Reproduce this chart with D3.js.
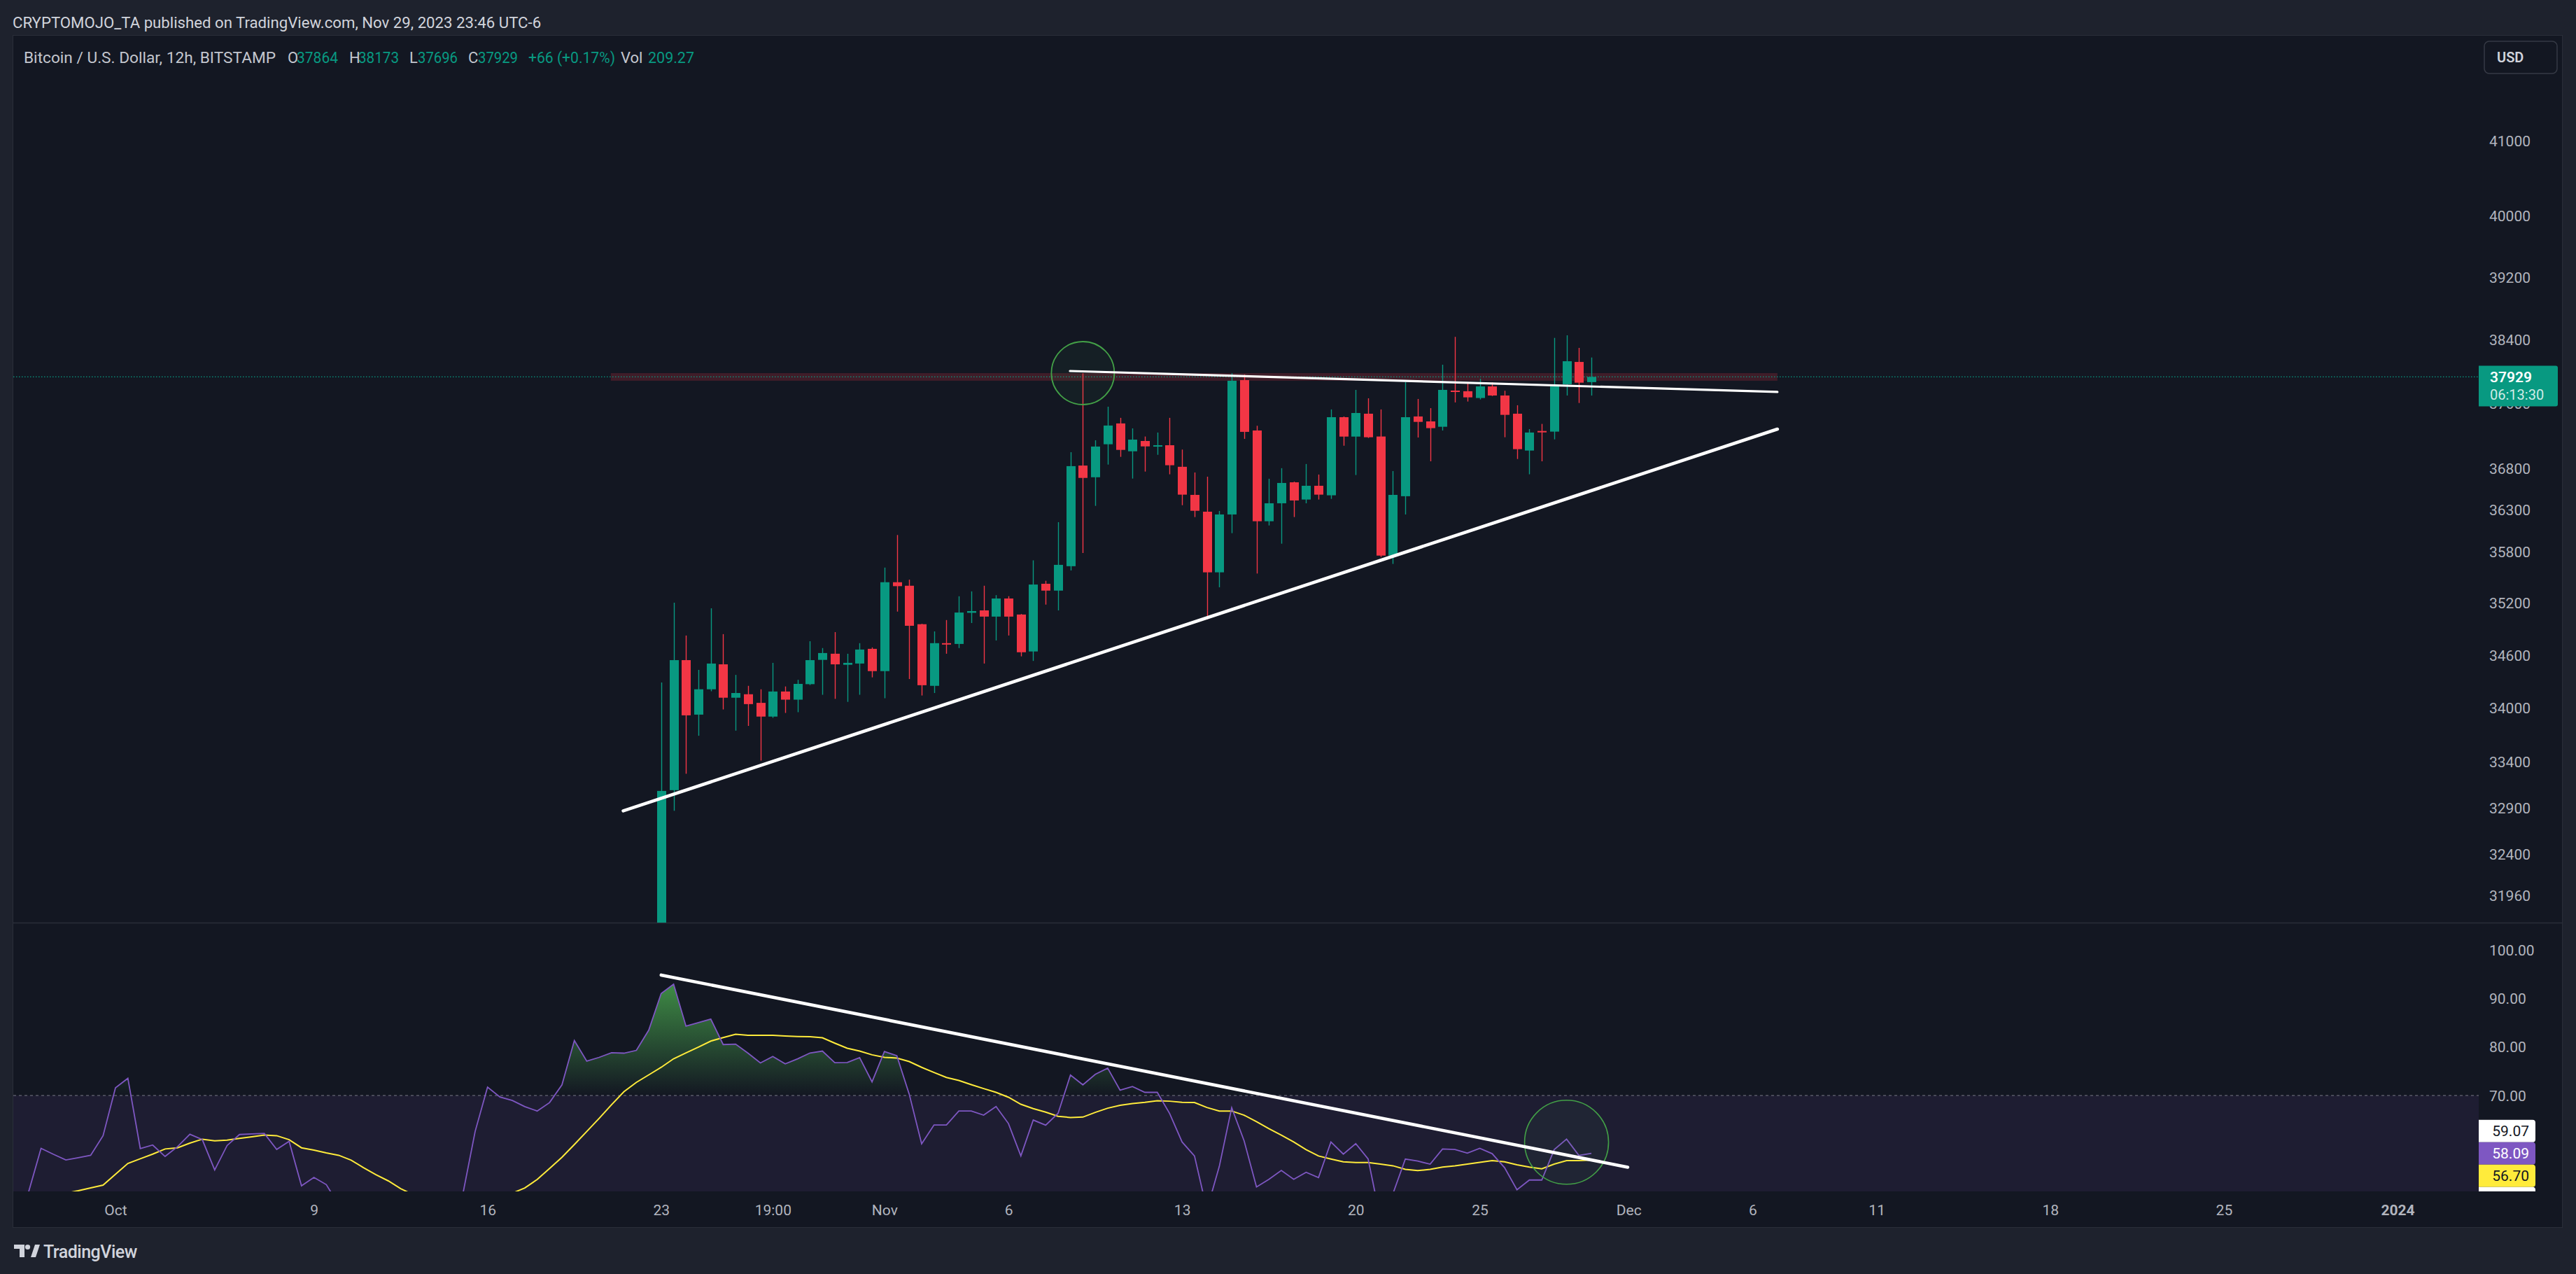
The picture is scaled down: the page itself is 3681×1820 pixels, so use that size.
<!DOCTYPE html>
<html><head><meta charset="utf-8">
<script src="https://cdn.jsdelivr.net/npm/d3@7"></script>
<style>
html,body{margin:0;padding:0;background:#1e222d;overflow:hidden;}
svg{display:block;}
text{font-family:Roboto,"Noto Sans",sans-serif;}
</style></head><body>
<svg id="c" width="3681" height="1820"></svg>
<script>
// ---------------- DATA ----------------
const firstBar = "2023-10-23T12:00:00Z";   // first visible 12h candle
const barHours = 12;
const opens  = [30880,33091,34543,33927,34212,34495,34117,34156,34059,33905,34187,34095,34270,34546,34616,34490,34504,34672,34418,35443,35402,34955,34251,34737,34728,35087,35115,35043,35253,35067,34642,35425,35345,35631,36835,36693,37095,37351,37009,37135,37069,37083,36820,36480,36278,35559,36245,37889,37264,36164,36379,36632,36424,36590,36475,37428,37189,37471,37190,35756,36464,37437,37376,37310,37758,37750,37666,37810,37697,37471,37018,37258,37250,37837,38117,37864];
const highs  = [34289,35205,34825,34432,35139,34841,34375,34251,34212,34512,34244,34319,34759,34681,34864,34616,34737,34688,35615,36000,35473,34960,34872,35003,35279,35336,35402,35292,35280,35073,35700,35460,36153,36998,37975,37144,37558,37420,37290,37190,37239,37420,37030,36751,36700,36287,37975,37960,37322,36675,36803,36640,36854,36726,37524,37437,37767,37662,37524,36768,37863,37654,37540,38082,38434,37848,37906,37860,37756,37576,37281,37345,38421,38454,38294,38173];
const lows   = [30800,32866,33271,33691,34190,33985,33748,33801,33416,33891,33946,33954,34260,34150,34104,34070,34150,34347,34111,35101,34328,34142,34170,34616,34681,34969,34504,34768,34825,34586,34534,35182,35115,35581,35787,36348,36847,36941,36677,36762,36966,36729,36356,36214,35010,35384,36022,37161,35545,36114,35897,36214,36379,36424,36432,37077,36720,37172,35740,35658,36245,37178,36887,37264,37611,37622,37648,37690,37181,36915,36729,36887,37155,37697,37604,37696];
const closes = [33083,34543,33919,34212,34504,34117,34170,34045,33905,34187,34095,34273,34543,34624,34495,34512,34664,34418,35443,35397,34937,34258,34737,34728,35090,35107,35043,35253,35043,34633,35416,35345,35647,36828,36685,37067,37325,37026,37152,37069,37083,36839,36483,36289,35559,36245,37881,37247,36164,36379,36624,36413,36590,36483,37428,37189,37480,37181,35756,36480,37428,37370,37293,37767,37741,37674,37810,37697,37457,37035,37239,37250,37810,38126,37857,37929];

const rsiFirstBar = -52;  // bar offset of first RSI value relative to firstBar
const rsiValues = [47,50.2,59.14,57.9,56.74,57.2,57.7,61.73,71.57,73.54,59.09,59.81,57.46,59.47,62.02,60.92,54.68,59.71,61.97,62.1,62.21,58.9,60.58,51.42,53.15,51.66,47.5,45.8,44.9,46.2,47.1,45.6,44.8,46.3,47.4,46.0,49.6,62.6,71.71,69.69,68.97,67.72,66.81,68.54,72.19,81.3,77.08,77.85,78.81,78.71,79.28,83.46,90.99,92.9,84.27,84.99,85.71,80.48,80.58,78.71,76.69,78.03,76.5,77.55,78.75,79.14,76.74,76.79,77.8,72.81,79.04,78.18,70.27,60.05,63.94,63.94,66.82,66.82,65.96,67.73,64.23,57.56,64.95,63.89,66.34,74.21,72.19,74.35,75.64,71.09,71.85,70.65,70.65,66.28,60.43,57.56,46.5,55.4,67.49,60.67,51.18,52.76,54.58,52.76,54.2,53.1,60.43,57.94,60.1,56.93,44.5,49.8,56.93,56.5,55.88,59.0,58.9,58.13,59.14,58.03,55.16,50.6,52.61,52.61,58.85,61.01,57.65,58.09];
const rsiMA = [48.4,48.8,49.2,49.6,49.9,50.4,51.0,51.56,53.8,56.02,56.98,57.94,59.0,59.24,60.2,61.01,60.68,60.83,61.17,61.5,61.87,61.73,60.92,59.24,58.76,58.18,57.7,56.7,55.16,53.72,52.43,50.84,49.6,49.0,48.6,48.4,48.3,48.5,48.9,49.3,49.9,50.98,52.71,54.99,57.28,59.91,62.6,65.3,68.1,70.8,72.7,74.25,75.8,77.56,78.76,79.96,81.2,81.92,82.6,82.4,82.4,82.4,82.25,82.15,82.1,81.87,80.77,79.72,79.14,78.37,77.85,77.7,76.98,75.8,74.74,73.72,73.1,72.23,71.42,70.65,69.64,68.2,67.29,66.57,65.71,65.47,65.56,66.53,67.39,67.97,68.35,68.59,68.93,68.83,68.59,68.55,67.53,66.81,66.81,65.95,64.61,63.17,61.83,60.44,58.86,57.56,56.94,56.36,56.22,56.22,55.88,55.54,54.82,54.54,54.82,55.26,55.54,55.88,56.26,56.6,56.36,55.74,55.26,54.92,55.88,56.6,56.6,56.7];

const priceTicks = [41000,40000,39200,38400,37600,36800,36300,35800,35200,34600,34000,33400,32900,32400,31960];
const rsiTicks = [100,90,80,70];
const timeTickDates = ["2023-10-01T12:00:00Z","2023-10-09T12:00:00Z","2023-10-16T12:00:00Z","2023-10-23T12:00:00Z","2023-10-28T00:00:00Z","2023-11-01T12:00:00Z","2023-11-06T12:00:00Z","2023-11-13T12:00:00Z","2023-11-20T12:00:00Z","2023-11-25T12:00:00Z","2023-12-01T12:00:00Z","2023-12-06T12:00:00Z","2023-12-11T12:00:00Z","2023-12-18T12:00:00Z","2023-12-25T12:00:00Z","2024-01-01T12:00:00Z"];
const timeTickLabels = ["Oct","9","16","23","19:00","Nov","6","13","20","25","Dec","6","11","18","25","2024"];
const timeTickBold = ["2024"];

const lastPrice = 37929;
const countdown = "06:13:30";
const rsiLabelValues = [59.07, 58.09, 56.70, 55.25];

// drawings (bar offsets / prices)
const bandBars = [-4.06, 90];
const bandPrices = [37881, 37977];
const upperTrend = [[32.96, 38003], [90, 37741]];
const lowerTrend = [[-3.06, 32866], [90, 37281]];
const priceCircle = [34, 37977];
const rsiTrend = [[0, 94.78], [77.93, 55.25]];
const rsiCircle = [73, 60.38];

const headerText = "CRYPTOMOJO_TA published on TradingView.com, Nov 29, 2023 23:46 UTC-6";
// [text, colour, left x, measured width]
const legendParts = [
  ["Bitcoin / U.S. Dollar, 12h, BITSTAMP", "#c3c6ce", 34, 360],
  ["O", "#c3c6ce", 411, 0], ["37864", "#089981", 424, 59],
  ["H", "#c3c6ce", 499, 0], ["38173", "#089981", 512, 58],
  ["L", "#c3c6ce", 585, 0], ["37696", "#089981", 597, 57],
  ["C", "#c3c6ce", 669, 0], ["37929", "#089981", 683, 57],
  ["+66 (+0.17%)", "#089981", 755, 124],
  ["Vol", "#c3c6ce", 887, 0], ["209.27", "#089981", 926, 66]
];

// ---------------- LAYOUT ----------------
const W = 3681, Hh = 1820;
const L = 19, PR = 3542, CR = 3661;
const pTop = 51, pBot = 1318, rTop = 1319, rBot = 1702, aBot = 1753;
const GREEN = "#089981", RED = "#f23645";

const svg = d3.select("#c");
const T0 = new Date(firstBar).getTime();
const H12 = barHours * 3600 * 1000;
const barTime = k => new Date(T0 + k * H12);

const x = d3.scaleUtc()
  .domain([new Date("2023-10-01T12:00:00Z"), new Date("2024-01-01T12:00:00Z")])
  .range([165, 3426]);
const y = d3.scaleLog().domain([31960, 41000]).range([1279.3, 201.6]);
const yr = d3.scaleLinear().domain([70, 100]).range([1565, 1356.7]);

const defs = svg.append("defs");
defs.append("clipPath").attr("id", "clipP").append("rect")
  .attr("x", L).attr("y", pTop).attr("width", PR - L).attr("height", pBot - pTop);
defs.append("clipPath").attr("id", "clipR").append("rect")
  .attr("x", L).attr("y", rTop).attr("width", PR - L).attr("height", rBot - rTop);
defs.append("clipPath").attr("id", "clipOB").append("rect")
  .attr("x", L).attr("y", rTop).attr("width", PR - L).attr("height", yr(70) - rTop);
defs.append("clipPath").attr("id", "clipRA").append("rect")
  .attr("x", PR).attr("y", rTop).attr("width", CR - PR).attr("height", rBot - rTop);
defs.append("clipPath").attr("id", "clipPA").append("rect")
  .attr("x", PR).attr("y", pTop).attr("width", CR - PR).attr("height", pBot - pTop);
const grad = defs.append("linearGradient").attr("id", "obg")
  .attr("gradientUnits", "userSpaceOnUse")
  .attr("x1", 0).attr("x2", 0).attr("y1", yr(100)).attr("y2", yr(70));
grad.append("stop").attr("offset", 0).attr("stop-color", "#4caf50").attr("stop-opacity", 1);
grad.append("stop").attr("offset", 1).attr("stop-color", "#4caf50").attr("stop-opacity", 0);

// backgrounds
svg.append("rect").attr("width", W).attr("height", Hh).attr("fill", "#1e222d");
svg.append("rect").attr("x", 18.5).attr("y", 50.5).attr("width", CR - 18).attr("height", aBot - 50)
  .attr("fill", "#131722").attr("stroke", "#2a2e39").attr("stroke-width", 1);
svg.append("line").attr("x1", L).attr("x2", CR).attr("y1", pBot + 0.5).attr("y2", pBot + 0.5)
  .attr("stroke", "#2a2e39").attr("stroke-width", 1.5);

// header
svg.append("text").attr("x", 18).attr("y", 32).attr("dominant-baseline", "central")
  .attr("fill", "#d1d4dc").attr("font-size", 22.2).text(headerText);
const leg = svg.append("g");
legendParts.forEach(p => {
  const t = leg.append("text").attr("x", p[2]).attr("y", 82).attr("dominant-baseline", "central")
    .attr("fill", p[1]).attr("font-size", 22).text(p[0]);
  if (p[3] > 0) t.attr("textLength", p[3]).attr("lengthAdjust", "spacingAndGlyphs");
});

// ---------------- PRICE PANE ----------------
const gp = svg.append("g").attr("clip-path", "url(#clipP)");
// horizontal zone
gp.append("rect")
  .attr("x", x(barTime(bandBars[0]))).attr("width", x(barTime(bandBars[1])) - x(barTime(bandBars[0])))
  .attr("y", y(bandPrices[1])).attr("height", y(bandPrices[0]) - y(bandPrices[1]))
  .attr("fill", "rgba(242,54,69,0.2)");
// last price line
gp.append("line").attr("x1", L).attr("x2", PR).attr("y1", y(lastPrice)).attr("y2", y(lastPrice))
  .attr("stroke", GREEN).attr("stroke-width", 1.2).attr("stroke-dasharray", "1.5,2.5");

const candles = opens.map((o, k) => ({ t: barTime(k), o, h: highs[k], l: lows[k], c: closes[k] }));
const cg = gp.append("g");
cg.selectAll("line.w").data(candles).join("line")
  .attr("x1", d => Math.round(x(d.t)) + 0.5).attr("x2", d => Math.round(x(d.t)) + 0.5)
  .attr("y1", d => y(d.h)).attr("y2", d => y(d.l))
  .attr("stroke", d => d.c >= d.o ? GREEN : RED).attr("stroke-width", 1.4);
cg.selectAll("rect.b").data(candles).join("rect")
  .attr("x", d => Math.round(x(d.t)) - 6).attr("width", 13)
  .attr("y", d => y(Math.max(d.o, d.c)))
  .attr("height", d => Math.max(2, y(Math.min(d.o, d.c)) - y(Math.max(d.o, d.c))))
  .attr("fill", d => d.c >= d.o ? GREEN : RED);

// circle
gp.append("circle").attr("cx", x(barTime(priceCircle[0]))).attr("cy", y(priceCircle[1])).attr("r", 45)
  .attr("fill", "rgba(76,175,80,0.06)").attr("stroke", "#43a047").attr("stroke-width", 1.8);
// trendlines
const tl = (g, pts, yy, w) => g.append("line")
  .attr("x1", x(barTime(pts[0][0]))).attr("y1", yy(pts[0][1]))
  .attr("x2", x(barTime(pts[1][0]))).attr("y2", yy(pts[1][1]))
  .attr("stroke", "#ffffff").attr("stroke-width", w).attr("stroke-linecap", "round");
tl(gp, upperTrend, y, 3.2);
tl(gp, lowerTrend, y, 4.6);

// price axis
const ly = y(lastPrice);
const pax = svg.append("g").attr("clip-path", "url(#clipPA)").append("g").attr("transform", `translate(3557,0)`)
  .call(d3.axisRight(y).tickValues(priceTicks).tickSize(0).tickPadding(0).tickFormat(d3.format("d")));
pax.select(".domain").remove();
pax.selectAll("text").attr("font-size", 21).attr("fill", "#b2b5be")
  .attr("font-family", "Roboto, 'Noto Sans', sans-serif").attr("text-anchor", "start").attr("dy", "0.35em");

// last price label
svg.append("path")
  .attr("d", `M${PR},${ly - 16} H${3652} a3,3 0 0 1 3,3 V${ly + 39} a3,3 0 0 1 -3,3 H${PR} Z`)
  .attr("fill", GREEN);
svg.append("text").attr("x", 3558).attr("y", ly + 1).attr("dominant-baseline", "central")
  .attr("font-size", 21).attr("font-weight", 600).attr("fill", "#ffffff").text(d3.format("d")(lastPrice));
svg.append("text").attr("x", 3558).attr("y", ly + 26).attr("dominant-baseline", "central")
  .attr("font-size", 20).attr("fill", "rgba(255,255,255,0.82)").text(countdown);

// USD button
svg.append("rect").attr("x", 3550).attr("y", 59).attr("width", 104).attr("height", 46).attr("rx", 7)
  .attr("fill", "#131722").attr("stroke", "#363a45").attr("stroke-width", 1.5);
svg.append("text").attr("x", 3568).attr("y", 82).attr("dominant-baseline", "central")
  .attr("font-size", 20).attr("font-weight", 600).attr("fill", "#d1d4dc").text("USD");

// ---------------- RSI PANE ----------------
const gr = svg.append("g").attr("clip-path", "url(#clipR)");
gr.append("rect").attr("x", L).attr("width", PR - L).attr("y", yr(70)).attr("height", yr(30) - yr(70))
  .attr("fill", "rgba(126,87,194,0.1)");
gr.append("line").attr("x1", L).attr("x2", PR).attr("y1", yr(70)).attr("y2", yr(70))
  .attr("stroke", "#787b86").attr("stroke-width", 1.2).attr("stroke-dasharray", "4,4");

const rsiData = rsiValues.map((v, k) => ({ t: barTime(rsiFirstBar + k), v }));
const maData = rsiMA.map((v, k) => ({ t: barTime(rsiFirstBar + k), v }));

gr.append("g").attr("clip-path", "url(#clipOB)").append("path")
  .datum(rsiData)
  .attr("d", d3.area().x(d => x(d.t)).y0(yr(70)).y1(d => yr(d.v)))
  .attr("fill", "url(#obg)");
gr.append("path").datum(maData)
  .attr("d", d3.line().x(d => x(d.t)).y(d => yr(d.v)))
  .attr("fill", "none").attr("stroke", "#ffeb3b").attr("stroke-width", 2);
gr.append("path").datum(rsiData)
  .attr("d", d3.line().x(d => x(d.t)).y(d => yr(d.v)))
  .attr("fill", "none").attr("stroke", "#7e57c2").attr("stroke-width", 1.8);

gr.append("circle").attr("cx", x(barTime(rsiCircle[0]))).attr("cy", yr(rsiCircle[1])).attr("r", 60)
  .attr("fill", "rgba(76,175,80,0.06)").attr("stroke", "#43a047").attr("stroke-width", 1.6);
tl(gr, rsiTrend, yr, 4.6);

// RSI axis
const rax = svg.append("g").attr("transform", `translate(3557,0)`)
  .call(d3.axisRight(yr).tickValues(rsiTicks).tickSize(0).tickPadding(0).tickFormat(d3.format(".2f")));
rax.select(".domain").remove();
rax.selectAll("text").attr("font-size", 21).attr("fill", "#b2b5be")
  .attr("font-family", "Roboto, 'Noto Sans', sans-serif").attr("text-anchor", "start").attr("dy", "0.35em");

// RSI value labels (stacked)
const lab = svg.append("g").attr("clip-path", "url(#clipRA)");
const midY = yr(rsiLabelValues[1]);
const labStyle = [["#ffffff", "#131722"], ["#7e57c2", "#ffffff"], ["#ffeb3b", "#131722"], ["#ffffff", "#131722"]];
rsiLabelValues.forEach((v, k) => {
  const top = midY - 16 + (k - 1) * 32;
  lab.append("path")
    .attr("d", `M${PR},${top} H${3619} a4,4 0 0 1 4,4 V${top + 28} a4,4 0 0 1 -4,4 H${PR} Z`)
    .attr("fill", labStyle[k][0]);
  lab.append("text").attr("x", 3614).attr("y", top + 16).attr("dominant-baseline", "central")
    .attr("text-anchor", "end").attr("font-size", 21).attr("fill", labStyle[k][1])
    .text(d3.format(".2f")(v));
});

// ---------------- TIME AXIS ----------------
const tdates = timeTickDates.map(s => new Date(s));
const tax = svg.append("g").attr("transform", `translate(0,1729)`)
  .call(d3.axisBottom(x).tickValues(tdates).tickSize(0).tickPadding(0)
    .tickFormat((d, i) => timeTickLabels[i]));
tax.select(".domain").remove();
tax.selectAll("text").attr("font-size", 21).attr("fill", "#b2b5be")
  .attr("font-family", "Roboto, 'Noto Sans', sans-serif").attr("y", 0).attr("dy", "0.35em")
  .attr("font-weight", (d, i) => timeTickBold.includes(timeTickLabels[i]) ? 700 : 400);

// ---------------- FOOTER LOGO ----------------
const lg = svg.append("g").attr("fill", "#d1d4dc");
lg.append("path").attr("d", "M20,1778 H35 V1796 H28 V1784 H20 Z");
lg.append("circle").attr("cx", 39.5).attr("cy", 1781.5).attr("r", 3.6);
lg.append("path").attr("d", "M44,1796 L50,1778 H57 L51,1796 Z");
svg.append("text").attr("x", 62).attr("y", 1788).attr("dominant-baseline", "central")
  .attr("font-size", 25).attr("font-weight", 500).attr("fill", "#d1d4dc").attr("letter-spacing", "-0.5")
  .text("TradingView");
</script>
</body></html>
